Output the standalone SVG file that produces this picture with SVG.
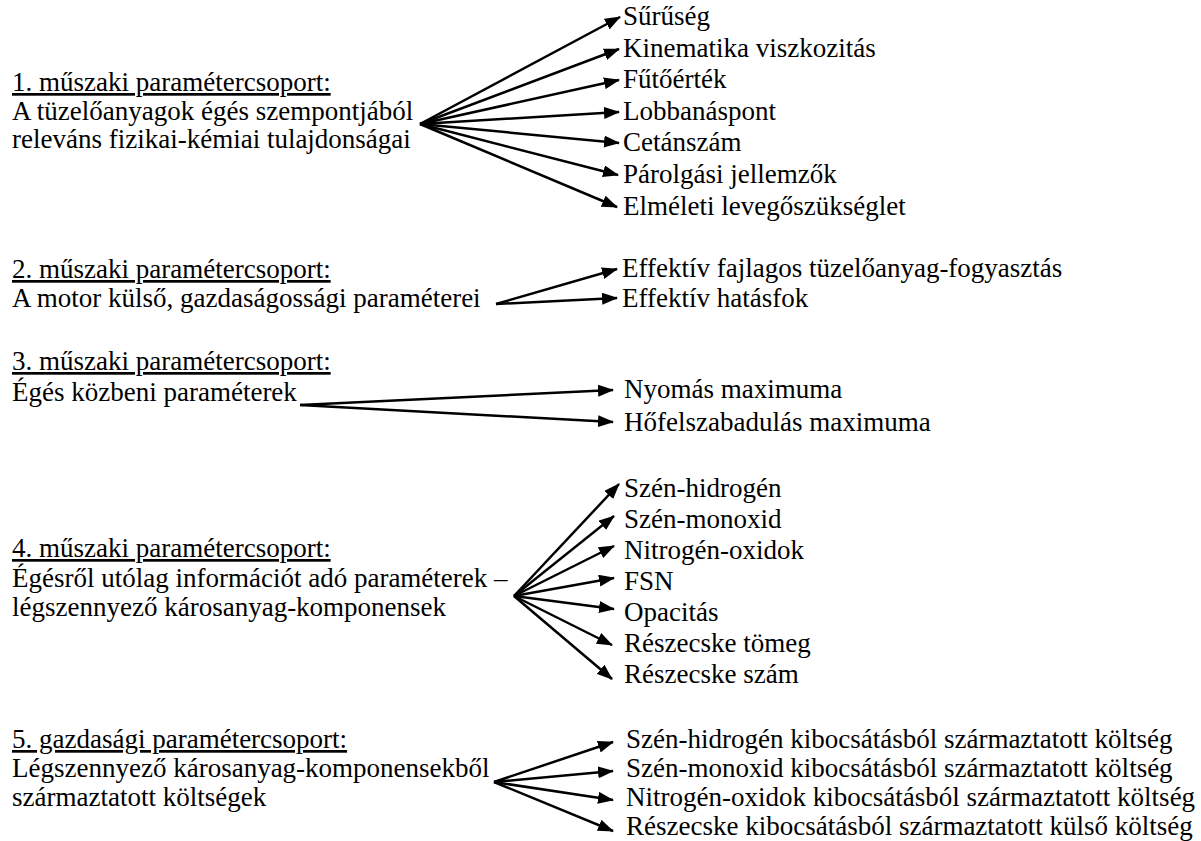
<svg xmlns="http://www.w3.org/2000/svg" width="1201" height="841" viewBox="0 0 1201 841">
<defs>
<marker id="ah" viewBox="0 0 16 12" refX="15" refY="6" markerWidth="16" markerHeight="12" markerUnits="userSpaceOnUse" orient="auto">
<path d="M0,0 L16,6 L0,12 z" fill="#000"/>
</marker>
<style>
text{font-family:"Times New Roman","Liberation Serif","DejaVu Serif",serif;font-size:27px;font-weight:400;fill:#000}
.h{text-decoration:underline}
.c line{stroke:#000;stroke-width:2.5;marker-end:url(#ah)}
</style>
</defs>
<rect width="1201" height="841" fill="#fff"/>
<g id="group1">
<text x="12" y="91" class="h">1. műszaki paramétercsoport:</text>
<text x="12" y="120">A tüzelőanyagok égés szempontjából</text>
<text x="12" y="148">releváns fizikai-kémiai tulajdonságai</text>
</g>
<g id="group1-items">
<text x="623" y="25">Sűrűség</text>
<text x="623" y="57">Kinematika viszkozitás</text>
<text x="623" y="88">Fűtőérték</text>
<text x="623" y="120">Lobbanáspont</text>
<text x="623" y="151">Cetánszám</text>
<text x="623" y="183">Párolgási jellemzők</text>
<text x="623" y="215">Elméleti levegőszükséglet</text>
</g>
<g id="group2">
<text x="12" y="278" class="h">2. műszaki paramétercsoport:</text>
<text x="12" y="307">A motor külső, gazdaságossági paraméterei</text>
</g>
<g id="group2-items">
<text x="622" y="277">Effektív fajlagos tüzelőanyag-fogyasztás</text>
<text x="622" y="307">Effektív hatásfok</text>
</g>
<g id="group3">
<text x="12" y="370" class="h">3. műszaki paramétercsoport:</text>
<text x="12" y="401">Égés közbeni paraméterek</text>
</g>
<g id="group3-items">
<text x="624" y="398">Nyomás maximuma</text>
<text x="624" y="431">Hőfelszabadulás maximuma</text>
</g>
<g id="group4">
<text x="12" y="557" class="h">4. műszaki paramétercsoport:</text>
<text x="12" y="587">Égésről utólag információt adó paraméterek –</text>
<text x="12" y="616">légszennyező károsanyag-komponensek</text>
</g>
<g id="group4-items">
<text x="624" y="497">Szén-hidrogén</text>
<text x="624" y="528">Szén-monoxid</text>
<text x="624" y="559">Nitrogén-oxidok</text>
<text x="624" y="590">FSN</text>
<text x="624" y="621">Opacitás</text>
<text x="624" y="652">Részecske tömeg</text>
<text x="624" y="683">Részecske szám</text>
</g>
<g id="group5">
<text x="12" y="748" class="h">5. gazdasági paramétercsoport:</text>
<text x="12" y="777">Légszennyező károsanyag-komponensekből</text>
<text x="12" y="806">származtatott költségek</text>
</g>
<g id="group5-items">
<text x="626" y="748">Szén-hidrogén kibocsátásból származtatott költség</text>
<text x="626" y="777">Szén-monoxid kibocsátásból származtatott költség</text>
<text x="626" y="806">Nitrogén-oxidok kibocsátásból származtatott költség</text>
<text x="626" y="835">Részecske kibocsátásból származtatott külső költség</text>
</g>
<g id="connectors" class="c">
<line x1="420" y1="124" x2="620" y2="17"/>
<line x1="420" y1="124" x2="619" y2="49"/>
<line x1="420" y1="124" x2="619" y2="80"/>
<line x1="420" y1="124" x2="619" y2="112"/>
<line x1="420" y1="124" x2="619" y2="143"/>
<line x1="420" y1="124" x2="618" y2="175"/>
<line x1="420" y1="124" x2="617" y2="207"/>
<line x1="496" y1="304" x2="617" y2="269"/>
<line x1="496" y1="304" x2="617" y2="298"/>
<line x1="300" y1="405" x2="613" y2="390"/>
<line x1="300" y1="405" x2="613" y2="422"/>
<line x1="514" y1="596" x2="619" y2="484"/>
<line x1="514" y1="596" x2="614" y2="516"/>
<line x1="514" y1="596" x2="614" y2="546"/>
<line x1="514" y1="596" x2="614" y2="578"/>
<line x1="514" y1="596" x2="614" y2="609"/>
<line x1="514" y1="596" x2="612" y2="645"/>
<line x1="514" y1="596" x2="612" y2="679"/>
<line x1="494" y1="782" x2="613" y2="742"/>
<line x1="494" y1="782" x2="613" y2="771"/>
<line x1="494" y1="782" x2="613" y2="800"/>
<line x1="494" y1="782" x2="613" y2="831"/>
</g>
</svg>
